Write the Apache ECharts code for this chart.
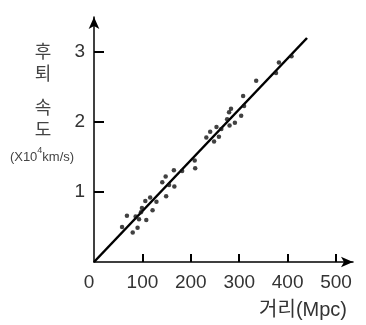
<!DOCTYPE html>
<html>
<head>
<meta charset="utf-8">
<script src="https://cdn.jsdelivr.net/npm/echarts@6/dist/echarts.min.js"></script>
<style>
  html, body { margin: 0; padding: 0; background: #fff; }
  #chart { width: 366px; height: 325px; }
</style>
</head>
<body>
<div id="chart"></div>
<script>
// distance (Mpc) and recession velocity (x10^4 km/s)
const distance = [58, 68, 80, 86, 90, 93, 97, 99, 106, 108, 116, 121, 129, 141, 148, 149, 155, 165, 166, 182,
  208, 209, 232, 240, 248, 253, 258, 263, 275, 279, 283, 280, 291, 304, 308, 310, 335, 376, 382, 408];
const velocity = [0.50, 0.66, 0.42, 0.65, 0.49, 0.61, 0.71, 0.77, 0.87, 0.60, 0.92, 0.74, 0.86, 1.14, 1.22, 0.94, 1.10, 1.31, 1.08, 1.30,
  1.45, 1.34, 1.78, 1.86, 1.72, 1.93, 1.79, 1.90, 2.04, 2.14, 2.19, 1.95, 1.99, 2.09, 2.37, 2.23, 2.59, 2.70, 2.85, 2.94];
// fitted line end points
const fitX = [0, 440];
const fitY = [0, 3.2];
const xTicks = [0, 100, 200, 300, 400, 500];
const yTicks = [1, 2, 3];

const numFont = "'Liberation Sans', sans-serif";
const krFont = "'Liberation Sans', 'Noto Sans CJK KR', sans-serif";

const chart = echarts.init(document.getElementById('chart'));

chart.setOption({
  animation: false,
  grid: { left: 94, right: 13, top: 17, bottom: 63 },
  xAxis: {
    type: 'value',
    min: 0,
    max: 535,
    splitLine: { show: false },
    axisLine: {
      lineStyle: { color: '#000', width: 1.5 },
      symbol: ['none', 'arrow'],
      symbolSize: [8, 12]
    },
    axisTick: {
      inside: true, length: 8,
      lineStyle: { color: '#000', width: 2 },
      customValues: xTicks.slice(1)
    },
    axisLabel: {
      customValues: xTicks,
      margin: 11,
      color: '#333',
      fontSize: 19,
      fontFamily: numFont,
      formatter: v => v === 0 ? '{z|0}' : String(v),
      rich: { z: { fontSize: 19, fontFamily: numFont, color: '#333', padding: [0, 10, 0, 0] } }
    },
    name: '거리(Mpc)',
    nameLocation: 'end',
    nameGap: -6,
    nameTextStyle: {
      color: '#333', fontSize: 20, fontFamily: krFont,
      align: 'right', verticalAlign: 'top', padding: [38, 0, 0, 0]
    }
  },
  yAxis: {
    type: 'value',
    min: 0,
    max: 3.5,
    splitLine: { show: false },
    axisLine: {
      lineStyle: { color: '#000', width: 1.5 },
      symbol: ['none', 'arrow'],
      symbolSize: [8, 12]
    },
    axisTick: {
      inside: true, length: 10,
      lineStyle: { color: '#000', width: 2 },
      customValues: yTicks
    },
    axisLabel: {
      customValues: yTicks,
      margin: 9,
      color: '#333',
      fontSize: 19,
      fontFamily: numFont
    }
  },
  graphic: [
    {
      type: 'text',
      style: {
        x: 43, y: 40,
        align: 'center', verticalAlign: 'top',
        text: '{k|후}\n{k|퇴}\n{g|}\n{k|속}\n{k|도}',
        rich: {
          k: { fontSize: 18, lineHeight: 22, fontFamily: "'Noto Sans CJK KR', sans-serif", fill: '#444' },
          g: { lineHeight: 12, fontSize: 4 }
        }
      }
    },
    {
      type: 'text',
      style: {
        x: 42, y: 157,
        align: 'center', verticalAlign: 'middle',
        text: '{a|(X10}{s|4}{a|km/s)}',
        rich: {
          a: { fontSize: 13, fontFamily: numFont, fill: '#444' },
          s: { fontSize: 9, fontFamily: numFont, fill: '#444', padding: [0, 0, 12, 0] }
        }
      }
    }
  ],
  series: [
    {
      type: 'line',
      data: fitX.map((x, i) => [x, fitY[i]]),
      symbol: 'none',
      lineStyle: { color: '#000', width: 2.5 },
      z: 2
    },
    {
      type: 'scatter',
      data: distance.map((x, i) => [x, velocity[i]]),
      symbolSize: 4.5,
      itemStyle: { color: '#111' },
      z: 3
    }
  ]
});
</script>
</body>
</html>
